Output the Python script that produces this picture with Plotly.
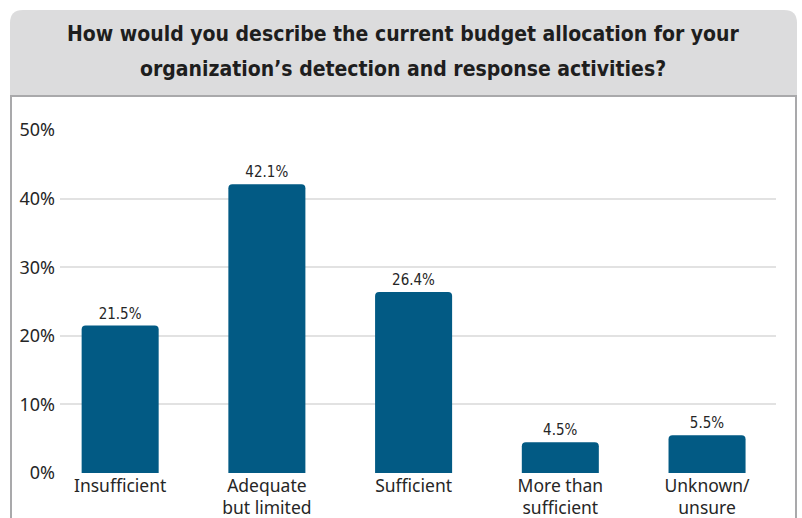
import plotly.graph_objects as go

# Survey responses
categories = ["Insufficient", "Adequate<br>but limited", "Sufficient",
              "More than<br>sufficient", "Unknown/<br>unsure"]
shares = [21.5, 42.1, 26.4, 4.5, 5.5]
y_ticks = [0, 10, 20, 30, 40, 50]
y_tick_labels = ["0%", "10%", "20%", "30%", "40%", "50%"]

TITLE_LINES = [
    "How would you describe the current budget allocation for your",
    "organization\u2019s detection and response activities?",
]

W, H = 802, 518
L, R, T, B = 60, 26, 130, 45
PW, PH = W - L - R, H - T - B


def px(x):
    return (x - L) / PW


def py(y):
    return (H - B - y) / PH


BAR = "#025a84"
TEXT = "#262626"
COND = "DejaVu Sans Condensed, Roboto"
SANS = "Noto Sans"

fig = go.Figure(
    go.Bar(
        x=list(range(len(categories))),
        y=shares,
        width=0.525,
        marker=dict(color=BAR, cornerradius=4, line=dict(width=0)),
        text=[f"{v:.1f}%" for v in shares],
        textposition="outside",
        textfont=dict(family=COND, size=15, color=TEXT),
        cliponaxis=False,
        hoverinfo="skip",
    )
)

# header box with rounded top corners
x0, x1, y0, y1 = 10, 797, 10, 96
r = 13
rx, ry = r / PW, r / PH
header_path = (
    f"M {px(x0)},{py(y1)} L {px(x0)},{py(y0) - ry} "
    f"Q {px(x0)},{py(y0)} {px(x0) + rx},{py(y0)} "
    f"L {px(x1) - rx},{py(y0)} "
    f"Q {px(x1)},{py(y0)} {px(x1)},{py(y0) - ry} "
    f"L {px(x1)},{py(y1)} Z"
)

shapes = [
    dict(type="path", path=header_path, xref="paper", yref="paper",
         fillcolor="#dcdcdd", line=dict(width=0), layer="below"),
    dict(type="line", xref="paper", yref="paper",
         x0=px(x0), x1=px(x1), y0=py(y1), y1=py(y1),
         line=dict(color="#a9a9ab", width=2)),
    dict(type="line", xref="paper", yref="paper",
         x0=px(11), x1=px(11), y0=py(97), y1=py(520),
         line=dict(color="#a9a9ab", width=2)),
    dict(type="line", xref="paper", yref="paper",
         x0=px(796), x1=px(796), y0=py(97), y1=py(520),
         line=dict(color="#a9a9ab", width=2)),
]

title_annotations = [
    dict(text=f"<b>{line}</b>", xref="paper", yref="paper",
         x=px(403), y=py(yc), xanchor="center", yanchor="middle",
         showarrow=False, align="center",
         font=dict(family=COND, size=21, color="#1e1e1e"))
    for line, yc in zip(TITLE_LINES, [34, 69])
]

fig.update_layout(
    width=W, height=H,
    margin=dict(l=L, r=R, t=T, b=B, pad=0, autoexpand=False),
    paper_bgcolor="white",
    plot_bgcolor="white",
    showlegend=False,
    shapes=shapes,
    annotations=title_annotations,
    xaxis=dict(
        range=[-0.41, 4.47],
        tickmode="array",
        tickvals=list(range(len(categories))),
        ticktext=categories,
        showgrid=False,
        zeroline=False,
        showline=False,
        ticks="",
        automargin=False,
        ticklabelstandoff=0,
        tickfont=dict(family=SANS, size=17.5, color=TEXT),
    ),
    yaxis=dict(
        range=[0, 50],
        tickmode="array",
        tickvals=y_ticks,
        ticktext=y_tick_labels,
        showgrid=True,
        gridcolor="#e2e2e2",
        gridwidth=2,
        zeroline=False,
        showline=False,
        ticks="",
        automargin=False,
        ticklabelstandoff=4,
        tickfont=dict(family=SANS, size=18, color=TEXT),
    ),
)

fig.write_html("out.html")
